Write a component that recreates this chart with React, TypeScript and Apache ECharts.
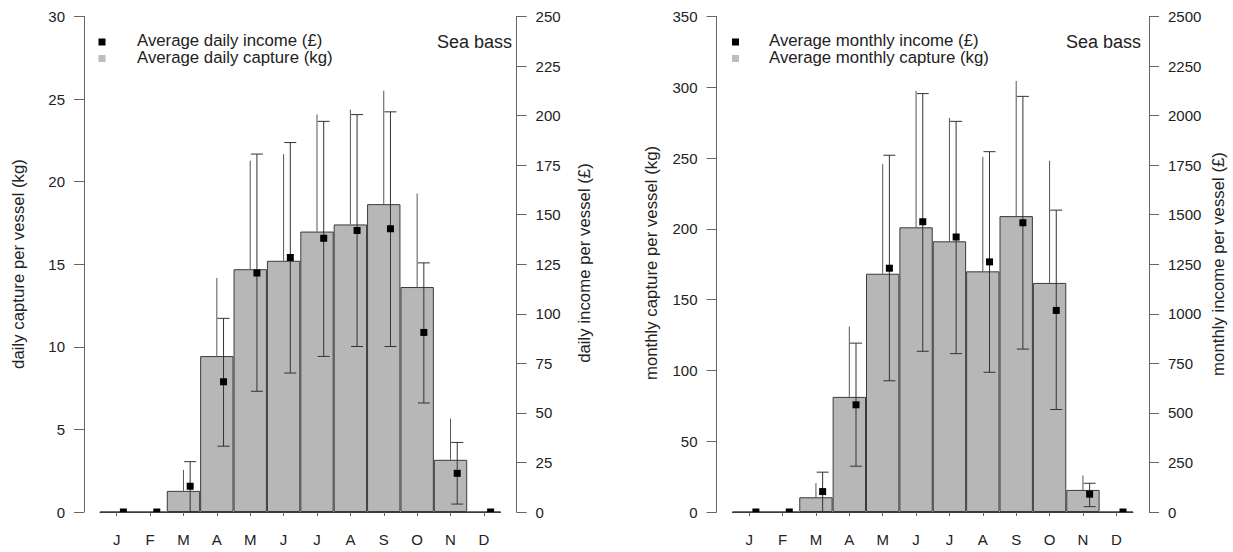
import React, { useEffect, useRef } from "react";
import * as echarts from "echarts";

const months = ["J", "F", "M", "A", "M", "J", "J", "A", "S", "O", "N", "D"];

// Left panel: daily values
const dailyCapture = [0, 0, 1.28, 9.44, 14.7, 15.21, 16.98, 17.41, 18.64, 13.62, 3.16, 0];
const dailyCaptureUpper = [0, 0, 2.55, 14.17, 21.27, 21.67, 24.06, 24.36, 25.51, 19.28, 5.66, 0];
const dailyIncome = [0, 0, 13.0, 65.7, 120.6, 128.4, 138.1, 142.0, 142.9, 90.6, 19.5, 0];
const dailyIncomeLow = [0, 0, 0, 33.2, 60.9, 70.1, 78.5, 83.5, 83.5, 55.0, 4.0, 0];
const dailyIncomeHigh = [0, 0, 25.4, 97.7, 180.6, 186.4, 197.1, 200.5, 201.9, 125.7, 35.1, 0];

// Right panel: monthly values
const monthlyCapture = [0, 0, 10.4, 81.3, 168.3, 201.1, 191.2, 170.0, 209.0, 161.8, 15.6, 0];
const monthlyCaptureUpper = [0, 0, 20.4, 131.0, 245.8, 297.5, 278.4, 250.8, 304.5, 248.1, 25.8, 0];
const monthlyIncome = [0, 0, 103, 541, 1230, 1465, 1388, 1262, 1459, 1017, 90, 0];
const monthlyIncomeLow = [0, 0, 0, 231, 662, 811, 799, 705, 822, 517, 27, 0];
const monthlyIncomeHigh = [0, 0, 201, 852, 1800, 2111, 1971, 1818, 2097, 1523, 145, 0];

const FONT = "'Liberation Sans', Arial, sans-serif";
const TEXT = "#222";
const AXIS = "#666";
const EDGE = "#3a3a3a";
const BAR = "#b7b7b7";
const OFF = 6.7;

function App() {
  const ref = useRef<HTMLDivElement>(null);
  useEffect(() => {
    if (!ref.current) return;
    const chart = echarts.init(ref.current, undefined, { renderer: "svg" });

    const gridTop = 16.5;
    const gridH = 495.5;
    const grids = [
      { left: 100, top: gridTop, width: 400.6, height: gridH },
      { left: 732.5, top: gridTop, width: 400.5, height: gridH },
    ];

    const xAxisBase = (gi: number) => ({
      type: "category",
      gridIndex: gi,
      data: months,
      boundaryGap: true,
      axisLine: { show: true, lineStyle: { color: EDGE, width: 1 } },
      axisTick: { show: true, alignWithLabel: true, length: 4, lineStyle: { color: AXIS } },
      axisLabel: { interval: 0, margin: 20, fontSize: 15, color: TEXT, fontFamily: FONT },
      splitLine: { show: false },
    });

    const yAxisBase = (gi: number, pos: string, max: number, interval: number) => ({
      type: "value",
      gridIndex: gi,
      position: pos,
      offset: 16,
      min: 0,
      max,
      interval,
      axisLine: { show: true, lineStyle: { color: AXIS, width: 1 } },
      axisTick: { show: true, length: 10, inside: false, lineStyle: { color: AXIS } },
      axisLabel: {
        margin: 19,
        fontSize: 15,
        color: TEXT,
        fontFamily: FONT,
        formatter: (v: number) => String(v),
      },
      splitLine: { show: false },
    });

    const idx = months.map((_, i) => i);

    const capErrRender = (params: any, api: any) => {
      const i = api.value(0);
      const a = api.coord([i, api.value(1)]);
      const b = api.coord([i, api.value(2)]);
      return {
        type: "line",
        shape: { x1: a[0], y1: a[1], x2: b[0], y2: b[1] },
        style: { stroke: "#555", lineWidth: 1 },
      };
    };

    const incErrRender = (params: any, api: any) => {
      const i = api.value(0);
      const a = api.coord([i, api.value(1)]);
      const b = api.coord([i, api.value(2)]);
      const x = a[0] + OFF;
      const st = { stroke: "#333", lineWidth: 1 };
      return {
        type: "group",
        children: [
          { type: "line", shape: { x1: x, y1: a[1], x2: x, y2: b[1] }, style: st },
          { type: "line", shape: { x1: x - 6, y1: a[1], x2: x + 6, y2: a[1] }, style: st },
          { type: "line", shape: { x1: x - 6, y1: b[1], x2: x + 6, y2: b[1] }, style: st },
        ],
      };
    };

    const pointRender = (params: any, api: any) => {
      const p = api.coord([api.value(0), api.value(1)]);
      return {
        type: "rect",
        shape: { x: p[0] + OFF - 3.5, y: p[1] - 3.5, width: 7, height: 7 },
        style: { fill: "#000" },
      };
    };

    const panelSeries = (
      gi: number,
      cap: number[],
      capUp: number[],
      inc: number[],
      incLo: number[],
      incHi: number[]
    ) => {
      const yL = gi * 2;
      const yR = gi * 2 + 1;
      return [
        {
          type: "bar",
          xAxisIndex: gi,
          yAxisIndex: yL,
          data: cap,
          barWidth: "100%",
          barCategoryGap: 0,
          itemStyle: { color: BAR, borderColor: EDGE, borderWidth: 1 },
          z: 2,
        },
        {
          type: "custom",
          xAxisIndex: gi,
          yAxisIndex: yL,
          data: idx.filter((i) => capUp[i] > 0).map((i) => [i, cap[i], capUp[i]]),
          renderItem: capErrRender,
          z: 3,
        },
        {
          type: "custom",
          xAxisIndex: gi,
          yAxisIndex: yR,
          data: idx.filter((i) => incHi[i] > 0).map((i) => [i, incLo[i], incHi[i]]),
          renderItem: incErrRender,
          clip: true,
          z: 4,
        },
        {
          type: "custom",
          xAxisIndex: gi,
          yAxisIndex: yR,
          data: idx.map((i) => [i, inc[i]]),
          renderItem: pointRender,
          clip: true,
          z: 5,
        },
      ];
    };

    const txt = (text: string, x: number, y: number, size: number, align: string, rot = 0) => ({
      type: "text",
      x,
      y,
      rotation: rot,
      style: {
        text,
        fill: TEXT,
        fontSize: size,
        fontFamily: FONT,
        align,
        verticalAlign: "middle",
      },
    });

    const sq = (cx: number, cy: number, color: string) => ({
      type: "rect",
      shape: { x: cx - 3.5, y: cy - 3.5, width: 7, height: 7 },
      style: { fill: color },
    });

    const R = Math.PI / 2;
    const graphics = [
      // left panel
      sq(102, 42, "#000"),
      sq(102, 58.5, "#bdbdbd"),
      txt("Average daily income (£)", 137, 40.5, 16.8, "left"),
      txt("Average daily capture (kg)", 137, 57.5, 16.8, "left"),
      txt("Sea bass", 512, 41.5, 18, "right"),
      txt("daily capture per vessel (kg)", 18, 264, 16.8, "center", R),
      txt("daily income per vessel (£)", 584.5, 263, 16.8, "center", R),
      // right panel
      sq(735.5, 42, "#000"),
      sq(735.5, 58.5, "#bdbdbd"),
      txt("Average monthly income (£)", 769, 40.5, 16.8, "left"),
      txt("Average monthly capture (kg)", 769, 57.5, 16.8, "left"),
      txt("Sea bass", 1141, 41.5, 18, "right"),
      txt("monthly capture per vessel (kg)", 651.5, 263, 16.8, "center", R),
      txt("monthly income per vessel (£)", 1218, 264, 16.8, "center", R),
    ];

    chart.setOption({
      animation: false,
      backgroundColor: "#fff",
      grid: grids,
      xAxis: [xAxisBase(0), xAxisBase(1)],
      yAxis: [
        yAxisBase(0, "left", 30, 5),
        yAxisBase(0, "right", 250, 25),
        yAxisBase(1, "left", 350, 50),
        yAxisBase(1, "right", 2500, 250),
      ],
      series: [
        ...panelSeries(0, dailyCapture, dailyCaptureUpper, dailyIncome, dailyIncomeLow, dailyIncomeHigh),
        ...panelSeries(1, monthlyCapture, monthlyCaptureUpper, monthlyIncome, monthlyIncomeLow, monthlyIncomeHigh),
      ],
      graphic: graphics,
    });

    return () => chart.dispose();
  }, []);

  return (
    <div
      ref={ref}
      style={{ position: "fixed", left: 0, top: 0, width: 1233, height: 552, background: "#fff" }}
    />
  );
}

export default App;
